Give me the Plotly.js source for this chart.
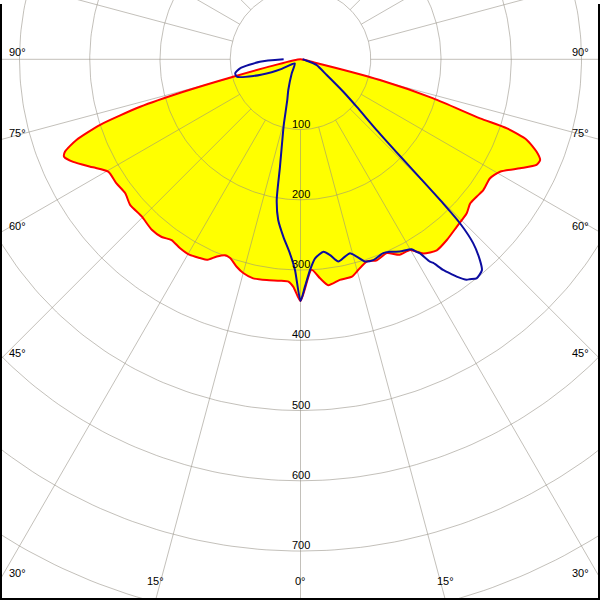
<!DOCTYPE html>
<html><head><meta charset="utf-8">
<script src="https://cdn.plot.ly/plotly-3.0.1.min.js"></script>
<style>html,body{margin:0;padding:0;background:#fff}#chart{width:600px;height:600px}</style>
</head><body><div id="chart"></div>
<script>
// Photometric distribution: signed gamma angle (deg from nadir, negative = left half-plane), intensity
const redGamma = [-90,-77,-75.5,-74.5,-73.5,-71.9,-70.2,-68.6,-67.6,-65.7,-62.5,-59.7,-56.0,-52.6,-49.5,-45.3,-41.1,-38.0,-35.5,-32.5,-29.5,-26.8,-25.0,-23.0,-21.1,-19.5,-17.1,-15.0,-12.2,-8.7,-5.3,-3.1,-1.8,0,3.0,5.1,7.0,10.1,13.3,15.3,18.1,20.8,24.0,26.9,29.9,32.3,35.5,39.0,43.0,47.2,49.6,52.1,54.4,57.9,60.6,63.6,65.9,67.2,68.6,70.4,71.5,71.8,73.6,75.4,77,90];
const redCd    = [0,40,99,173,238,300,339,360,364,355,333,317,316,314,319,318,322,321,316,319,320,317,315,305,299,300,309,315,319,318,316.5,317,324,344,300,313,324,319,318,311,303,306,302,312,313,327,334,331,326,322.5,317,318,320,318.5,326,349,368,370,361,342,310,269,197,117,20,0];
const blueGamma = [-90,-86.6,-81.5,-78,-74.7,-70.5,-66,-63,-54,-32,-21.7,-18,-14.5,-13.7,-10.8,-9.6,-7.9,-5.5,-3.1,-1.5,0,1.1,2.6,4.2,6.8,8.6,10.6,12.7,14.3,15.9,17.7,19.9,23.1,24.9,27.3,30.3,31.1,31.6,32.6,33.1,34.1,35.3,35.7,37.0,37.6,38.8,40.7,41.8,43.2,44.2,44.7,45.2,45.8,47.1,49.8,52.9,59.1,70.6,77,90];
const blueCd    = [24,58,87,95,94,71,45,30,10,23.5,47,61,94,104,156,203,231,254,277,300,344,324,300,284,276,282,293,288,285,292,302,304,300,302,308,313,320,324,342,346,362,376,381,393,395,400,396,383,359,326,289,242,198,148,105,76,43.5,24,9,3];
const radialTicks = [100,200,300,400,500,600,700];
const gridCircles = [100,200,300,400,500,600,700,800,900,1000];
const angleTicks = [90,75,60,45,30,15,0];
const angleTickText = ['90°','75°','60°','45°','30°','15°','0°'];

const S = 0.7025, CX = 300.5, CY = 59.3, W = 600, H = 600;
const xr = [-CX/S, (W-CX)/S], yr = [-(H-CY)/S, CY/S];
const D = Math.PI/180;

function toXY(g, r){
  const x=[], y=[];
  for (let i=0;i<g.length;i++){ x.push(r[i]*Math.sin(g[i]*D)); y.push(-r[i]*Math.cos(g[i]*D)); }
  return {x, y};
}
const red = toXY(redGamma, redCd);
const blue = toXY(blueGamma, blueCd);

// grid
const gc = {x:[], y:[]};
gridCircles.forEach(R => {
  for (let a=0;a<=360;a+=1){ gc.x.push(R*Math.sin(a*D)); gc.y.push(-R*Math.cos(a*D)); }
  gc.x.push(null); gc.y.push(null);
});
const gs = {x:[], y:[]};
for (let a=0;a<360;a+=15){
  gs.x.push(100*Math.sin(a*D), 1400*Math.sin(a*D), null);
  gs.y.push(-100*Math.cos(a*D), -1400*Math.cos(a*D), null);
}
const gridColor = 'rgba(145,140,130,0.55)';
const sm = {shape:'spline', smoothing:0.6};

const traces = [
  {x: red.x, y: red.y, type:'scatter', mode:'lines', fill:'toself', fillcolor:'#ffff00', line:Object.assign({width:0}, sm), hoverinfo:'skip'},
  {x: gc.x, y: gc.y, type:'scatter', mode:'lines', line:{color:gridColor, width:1}, hoverinfo:'skip'},
  {x: gs.x, y: gs.y, type:'scatter', mode:'lines', line:{color:gridColor, width:1}, hoverinfo:'skip'},
  {x: red.x, y: red.y, type:'scatter', mode:'lines', line:Object.assign({color:'#ff0000', width:2}, sm), hoverinfo:'skip'},
  {x: blue.x, y: blue.y, type:'scatter', mode:'lines', line:Object.assign({color:'#0c0ca0', width:2}, sm), hoverinfo:'skip'}
];

const font = {family:'Liberation Sans, Arial, sans-serif', size:11, color:'#000'};
const ann = [];
radialTicks.forEach(v => ann.push({x:0, y:-v, xref:'x', yref:'y', text:String(v), showarrow:false, yshift:6, font}));
angleTicks.forEach((a,i) => {
  const s = Math.sin(a*D), c = Math.cos(a*D);
  let tEdge = s > 0 ? (-xr[0])/s : Infinity;
  const yEdge = -tEdge*c;
  if (s > 0 && yEdge >= yr[0]) {
    ann.push({x:0, xref:'paper', y:yEdge, yref:'y', text:angleTickText[i], showarrow:false, xanchor:'left', xshift:7, yshift:7, font});
    ann.push({x:1, xref:'paper', y:yEdge, yref:'y', text:angleTickText[i], showarrow:false, xanchor:'right', xshift:-9, yshift:7, font});
  } else {
    const t = (-yr[0])/c; const xb = t*s;
    ann.push({x:-xb, xref:'x', y:0, yref:'paper', text:angleTickText[i], showarrow:false, yshift:11, font});
    if (a !== 0) ann.push({x:xb, xref:'x', y:0, yref:'paper', text:angleTickText[i], showarrow:false, yshift:11, font});
  }
});

const layout = {
  width:W, height:H, margin:{l:0,r:0,t:0,b:0},
  paper_bgcolor:'#fff', plot_bgcolor:'#fff', showlegend:false, hovermode:false,
  xaxis:{range:xr, visible:false, fixedrange:true},
  yaxis:{range:yr, visible:false, fixedrange:true},
  annotations: ann,
  shapes:[
    {type:'rect', xref:'paper', yref:'paper', x0:0, x1:2/W, y0:0, y1:1-4/H, fillcolor:'#000', line:{width:0}, layer:'above'},
    {type:'rect', xref:'paper', yref:'paper', x0:1-2/W, x1:1, y0:0, y1:1-4/H, fillcolor:'#000', line:{width:0}, layer:'above'},
    {type:'rect', xref:'paper', yref:'paper', x0:0, x1:1, y0:0, y1:2/H, fillcolor:'#000', line:{width:0}, layer:'above'}
  ]
};
Plotly.newPlot('chart', traces, layout, {staticPlot:true, displayModeBar:false});
</script>
</body></html>
